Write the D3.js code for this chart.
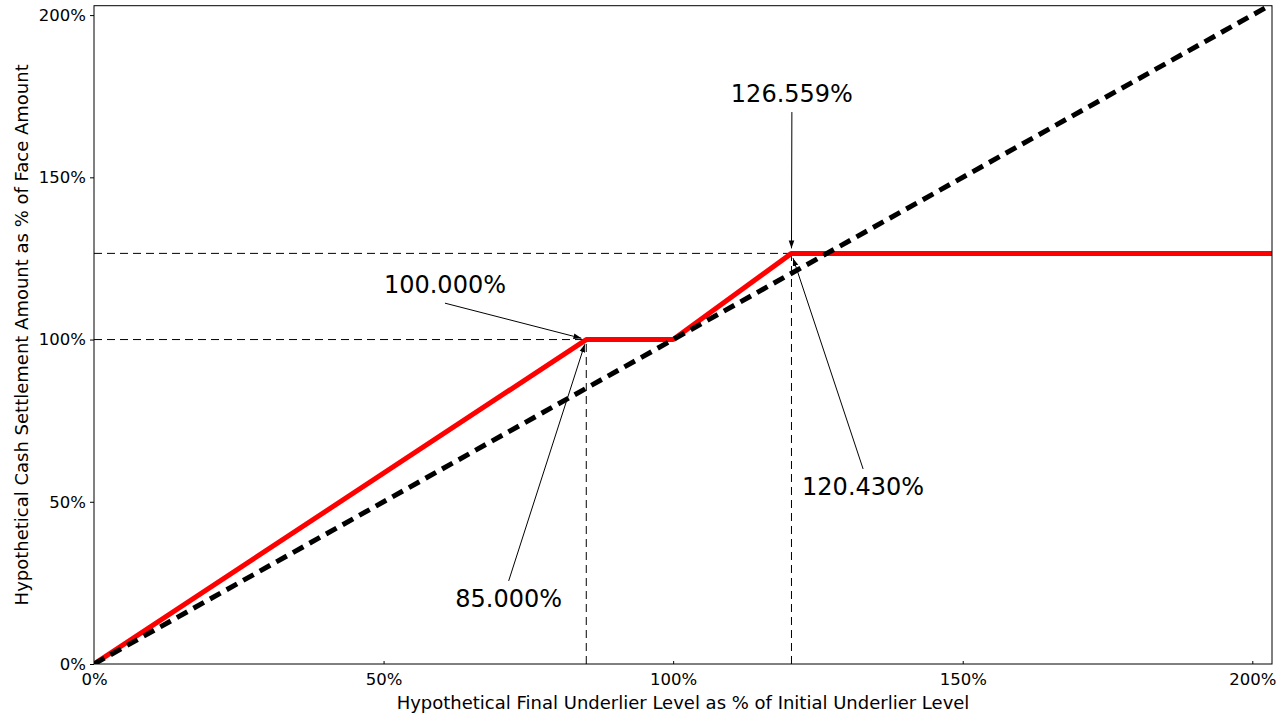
<!DOCTYPE html>
<html>
<head>
<meta charset="utf-8">
<script src="https://cdn.jsdelivr.net/npm/d3@7"></script>
<style>
  body { margin: 0; background: #fff; }
  svg { display: block; font-family: "DejaVu Sans", sans-serif; }
</style>
</head>
<body>
<svg id="chart" width="1280" height="720"></svg>
<script>
// payoff profile
const underlierLevels = [0, 85, 100, 120.43, 210];
const payoutLevels = [0, 100, 100, 126.559, 126.559];
const referenceLevels = [0, 210];

const xTicks = [0, 50, 100, 150, 200];
const yTicks = [0, 50, 100, 150, 200];

// annotations: point, text baseline position (data units)
const annotationLabels = ['126.559%', '100.000%', '85.000%', '120.430%'];
const annotationPointX = [120.43, 85, 85, 120.43];
const annotationPointY = [126.559, 100, 100, 126.559];
const annotationTextX = [120.5, 60.6, 71.6, 132.8];
const annotationTextY = [173.2, 114.3, 17.6, 52.1];

// guide lines to the axes
const guideX = [85, 120.43];
const guideY = [100, 126.559];

const plotLeft = 94, plotRight = 1272, plotTop = 5.7, plotBottom = 664;

const x = d3.scaleLinear().domain([0, 203.4]).range([plotLeft, plotRight]);
const y = d3.scaleLinear().domain([0, 202.9]).range([plotBottom, plotTop]);

const svg = d3.select('#chart');

const defs = svg.append('defs');
defs.append('clipPath').attr('id', 'plotClip')
  .append('rect')
  .attr('x', plotLeft).attr('y', plotTop)
  .attr('width', plotRight - plotLeft).attr('height', plotBottom - plotTop);

defs.append('marker')
  .attr('id', 'head')
  .attr('viewBox', '0 0 10 10')
  .attr('refX', 10).attr('refY', 5)
  .attr('markerWidth', 8).attr('markerHeight', 8)
  .attr('markerUnits', 'userSpaceOnUse')
  .attr('orient', 'auto')
  .append('path').attr('d', 'M0,1.5L10,5L0,8.5Z').attr('fill', '#000');

const plot = svg.append('g').attr('clip-path', 'url(#plotClip)');

// thin dashed guides
guideX.forEach((gx, i) => {
  plot.append('line')
    .attr('x1', x(0)).attr('x2', x(gx))
    .attr('y1', y(guideY[i])).attr('y2', y(guideY[i]))
    .attr('stroke', '#000').attr('stroke-width', 1)
    .attr('stroke-dasharray', '8,5');
  plot.append('line')
    .attr('x1', x(gx)).attr('x2', x(gx))
    .attr('y1', y(0)).attr('y2', y(guideY[i]))
    .attr('stroke', '#000').attr('stroke-width', 1)
    .attr('stroke-dasharray', '8,5');
});

const line = d3.line().x(d => x(d[0])).y(d => y(d[1]));

plot.append('path')
  .datum(underlierLevels.map((v, i) => [v, payoutLevels[i]]))
  .attr('d', line)
  .attr('fill', 'none')
  .attr('stroke', '#ff0000')
  .attr('stroke-width', 5)
  .attr('stroke-linejoin', 'round');

plot.append('path')
  .datum(referenceLevels.map(v => [v, v]))
  .attr('d', line)
  .attr('fill', 'none')
  .attr('stroke', '#000')
  .attr('stroke-width', 5)
  .attr('stroke-dasharray', '12,7');

// frame
svg.append('rect')
  .attr('x', plotLeft).attr('y', plotTop)
  .attr('width', plotRight - plotLeft).attr('height', plotBottom - plotTop)
  .attr('fill', 'none').attr('stroke', '#000').attr('stroke-width', 1);

// axes
const xAxis = svg.append('g')
  .attr('transform', `translate(0,${plotBottom})`)
  .call(d3.axisBottom(x).tickValues(xTicks).tickFormat(d => d + '%').tickSize(-3).tickPadding(9));
xAxis.select('.domain').remove();
xAxis.selectAll('text').attr('font-size', 16.5).attr('font-family', 'DejaVu Sans').attr('fill', '#000');

const yAxis = svg.append('g')
  .attr('transform', `translate(${plotLeft},0)`)
  .call(d3.axisLeft(y).tickValues(yTicks).tickFormat(d => d + '%').tickSize(4).tickPadding(4));
yAxis.select('.domain').remove();
yAxis.selectAll('text').attr('font-size', 16.5).attr('font-family', 'DejaVu Sans').attr('fill', '#000');

svg.append('text')
  .attr('x', (plotLeft + plotRight) / 2).attr('y', 709)
  .attr('text-anchor', 'middle')
  .attr('font-size', 18)
  .text('Hypothetical Final Underlier Level as % of Initial Underlier Level');

svg.append('text')
  .attr('transform', `translate(28,${(plotTop + plotBottom) / 2}) rotate(-90)`)
  .attr('text-anchor', 'middle')
  .attr('font-size', 18)
  .text('Hypothetical Cash Settlement Amount as % of Face Amount');

// annotations
annotationLabels.forEach((label, i) => {
  const t = svg.append('text')
    .attr('x', x(annotationTextX[i])).attr('y', y(annotationTextY[i]))
    .attr('text-anchor', 'middle')
    .attr('font-size', 24)
    .text(label);
  const bb = t.node().getBBox();
  const px = x(annotationPointX[i]), py = y(annotationPointY[i]);
  const sx = bb.x + bb.width / 2;
  const sy = py < bb.y ? bb.y - 4 : bb.y + bb.height + 4;
  const dx = px - sx, dy = py - sy;
  const len = Math.hypot(dx, dy);
  const shrink = 5;
  svg.append('line')
    .attr('x1', sx).attr('y1', sy)
    .attr('x2', px - dx / len * shrink).attr('y2', py - dy / len * shrink)
    .attr('stroke', '#000').attr('stroke-width', 1)
    .attr('marker-end', 'url(#head)');
});
</script>
</body>
</html>
